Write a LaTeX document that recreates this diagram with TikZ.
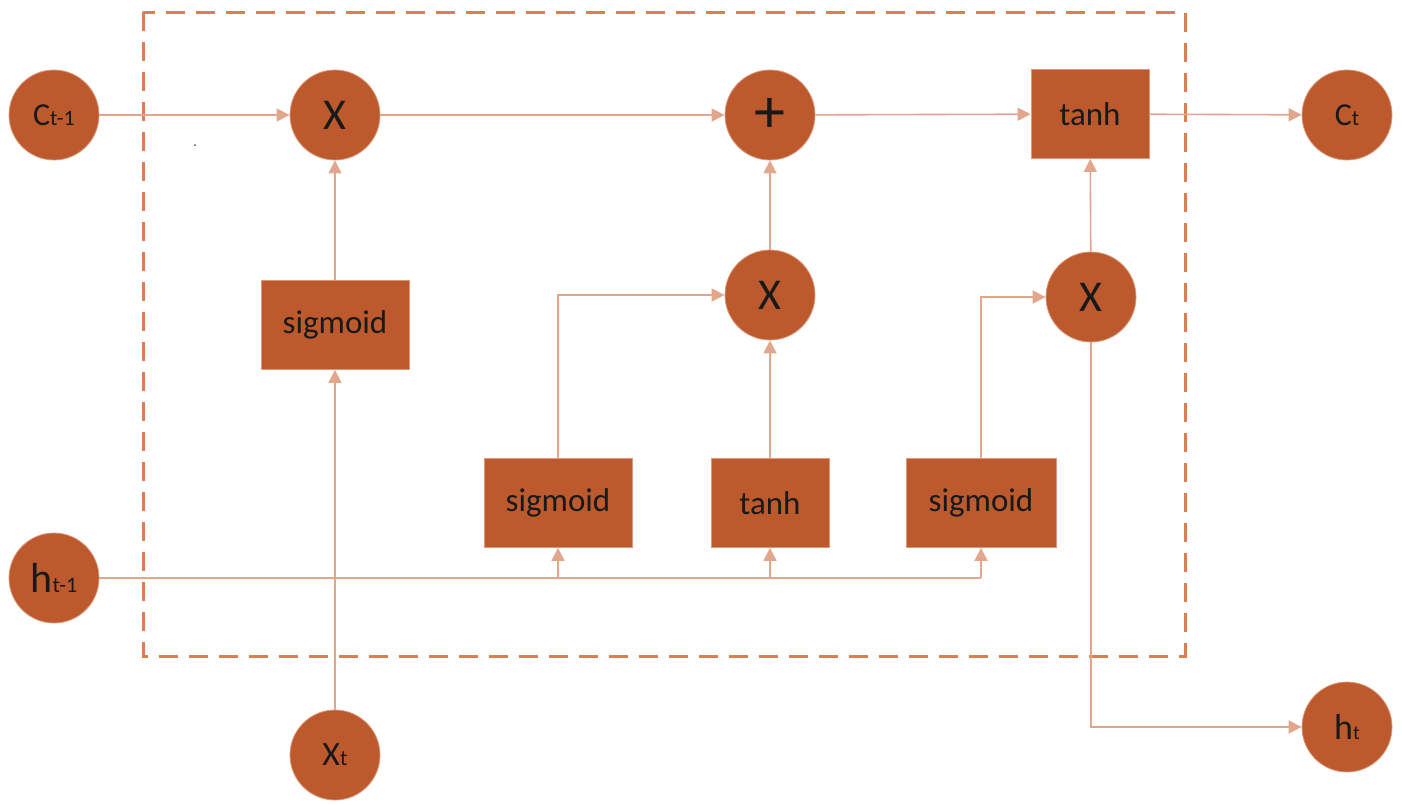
\documentclass[tikz,border=0pt]{standalone}
\usepackage{fontspec}
\setmainfont{Carlito}
\usetikzlibrary{arrows.meta}
\definecolor{fillc}{HTML}{BC5A2E}
\definecolor{edgec}{HTML}{DC9878}
\definecolor{linec}{HTML}{E2A68C}
\definecolor{dashc}{HTML}{DF7D52}
\tikzset{
  every node/.style={font=\fontsize{33}{35}\selectfont, text=black!90},
  circ/.style={circle, fill=fillc, draw=edgec, line width=0.8pt, minimum size=90pt, inner sep=0pt},
  box/.style={rectangle, fill=fillc, draw=edgec, line width=0.8pt, minimum width=#1, minimum height=89pt, inner sep=0pt},
  conn/.style={draw=linec, line width=1.6pt, -{Triangle[length=13pt,width=13pt]}},
  plain/.style={draw=linec, line width=1.6pt},
}
\newcommand{\lbl}[4]{{\fontsize{#1}{#1}\selectfont #2}{\fontsize{#3}{#3}\selectfont #4}}
\begin{document}
\begin{tikzpicture}[x=1pt,y=-1pt]
\useasboundingbox (0,0) rectangle (1402,804);
% dashed frame
\draw[dashc, line width=3pt, dash pattern=on 19pt off 11pt] (143,12) rectangle (1185,656);
% stray dot
\fill[black!70] (195,145) circle (1pt);
% nodes
\node[circ] (cprev) at (54,115) {\lbl{32}{C}{22}{t-1}};
\node[circ] (x1) at (335,115) {\fontsize{44}{44}\selectfont X};
\node[circ] (plus) at (770,115) {\fontsize{62}{62}\selectfont +};
\node[box=118pt] (tanhtop) at (1090,114) {tanh};
\node[circ] (ct) at (1347,115) {\lbl{32}{C}{22}{t}};
\node[box=148pt] (sig1) at (335,325) {sigmoid};
\node[circ] (x2) at (770,295) {\fontsize{44}{44}\selectfont X};
\node[circ] (x3) at (1091,297) {\fontsize{44}{44}\selectfont X};
\node[box=148pt] (sig2) at (558,503) {sigmoid};
\node[box=118pt] (tanh2) at (770,503) {tanh};
\node[box=150pt] (sig3) at (981,503) {sigmoid};
\node[circ] (hprev) at (54,578) {\lbl{42}{h}{22}{t-1}};
\node[circ] (xt) at (335,755) {\lbl{34}{X}{22}{t}};
\node[circ] (ht) at (1347,727) {\lbl{36}{h}{20}{t}};
% coordinates
\coordinate (j1) at (558,578);
\coordinate (j2) at (770,578);
\coordinate (j3) at (981,578);
\coordinate (c2) at (558,295);
\coordinate (c3) at (981,297);
\coordinate (c4) at (1091,727);
% connectors
\draw[conn] (cprev) -- (x1);
\draw[conn] (x1) -- (plus);
\draw[conn] (plus) -- (tanhtop);
\draw[conn] (tanhtop) -- (ct);
\draw[conn] (sig1) -- (x1);
\draw[conn] (xt) -- (sig1);
\draw[plain] (hprev.east) -- (j3);
\draw[conn] (j1) -- (sig2);
\draw[conn] (j2) -- (tanh2);
\draw[conn] (j3) -- (sig3);
\draw[conn] (sig2.north) -- (c2) -- (x2);
\draw[conn] (tanh2) -- (x2);
\draw[conn] (x2) -- (plus);
\draw[conn] (sig3.north) -- (c3) -- (x3);
\draw[conn] (x3) -- (tanhtop);
\draw[conn] (x3.south) -- (c4) -- (ht);
\end{tikzpicture}
\end{document}
